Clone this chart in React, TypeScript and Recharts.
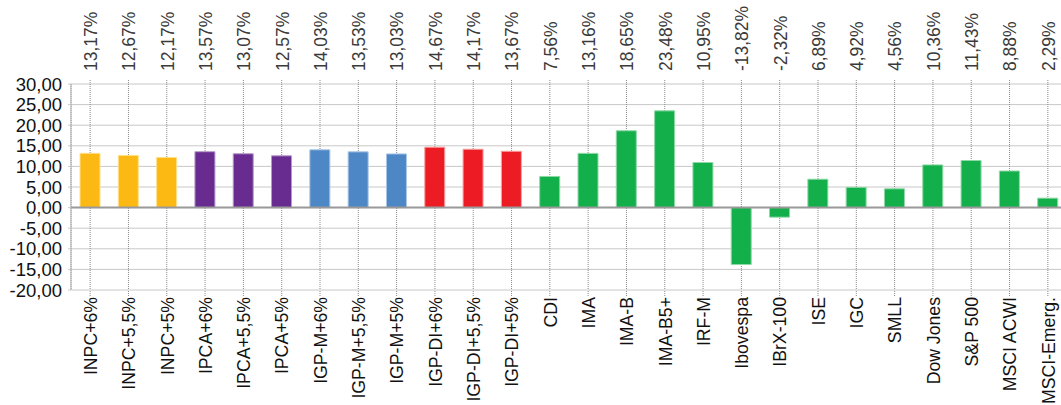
import { BarChart, Bar, XAxis, YAxis, CartesianGrid, ReferenceLine, Cell } from 'recharts'

const categories = [
  'INPC+6%', 'INPC+5,5%', 'INPC+5%',
  'IPCA+6%', 'IPCA+5,5%', 'IPCA+5%',
  'IGP-M+6%', 'IGP-M+5,5%', 'IGP-M+5%',
  'IGP-DI+6%', 'IGP-DI+5,5%', 'IGP-DI+5%',
  'CDI', 'IMA', 'IMA-B', 'IMA-B5+', 'IRF-M', 'Ibovespa', 'IBrX-100',
  'ISE', 'IGC', 'SMLL', 'Dow Jones', 'S&P 500', 'MSCI ACWI', 'MSCI-Emerg.',
]

const values = [
  13.17, 12.67, 12.17,
  13.57, 13.07, 12.57,
  14.03, 13.53, 13.03,
  14.67, 14.17, 13.67,
  7.56, 13.16, 18.65, 23.48, 10.95, -13.82, -2.32,
  6.89, 4.92, 4.56, 10.36, 11.43, 8.88, 2.29,
]

const groups = [
  'INPC', 'INPC', 'INPC',
  'IPCA', 'IPCA', 'IPCA',
  'IGP-M', 'IGP-M', 'IGP-M',
  'IGP-DI', 'IGP-DI', 'IGP-DI',
  'mercado', 'mercado', 'mercado', 'mercado', 'mercado', 'mercado', 'mercado',
  'mercado', 'mercado', 'mercado', 'mercado', 'mercado', 'mercado', 'mercado',
]

const yTicks = [-20, -15, -10, -5, 0, 5, 10, 15, 20, 25, 30]

const palette: Record<string, { fill: string; edge: string }> = {
  INPC: { fill: '#FDB913', edge: '#FFE08A' },
  IPCA: { fill: '#682C90', edge: '#B59AC9' },
  'IGP-M': { fill: '#4E87C6', edge: '#A9C6E6' },
  'IGP-DI': { fill: '#ED1C24', edge: '#F7A3A0' },
  mercado: { fill: '#13AF4B', edge: '#8ED8A6' },
}

const data = categories.map((name, i) => ({ name, value: values[i], group: groups[i] }))

const font = '"Liberation Sans", Arial, sans-serif'
const fmt = (v: number) => v.toFixed(2).replace('.', ',')

interface TickProps {
  x?: number
  y?: number
  payload?: { value: string; index: number }
}

// rotated labels are a little condensed along the reading direction
function TopTick({ x = 0, payload }: TickProps) {
  const v = values[payload?.index ?? 0]
  return (
    <g transform={`translate(${x},71)`}>
      <text
        transform="rotate(-90) scale(0.92 1)"
        textAnchor="start"
        dy="0.36em"
        fill="#3a3a3a"
        fontSize={19}
        fontFamily={font}
      >
        {fmt(v) + '%'}
      </text>
    </g>
  )
}

function BottomTick({ x = 0, payload }: TickProps) {
  return (
    <g transform={`translate(${x},297)`}>
      <text
        transform="rotate(-90) scale(0.94 1)"
        textAnchor="end"
        dy="0.36em"
        fill="#111"
        fontSize={18.8}
        fontFamily={font}
      >
        {payload?.value}
      </text>
    </g>
  )
}

export default function App() {
  return (
    <div
      style={{
        position: 'fixed',
        top: 0,
        left: 0,
        width: 1061,
        height: 405,
        overflow: 'hidden',
        background: '#fff',
      }}
    >
      <BarChart
        width={1080}
        height={405}
        data={data}
        margin={{ top: 0, right: 13, left: 0, bottom: 0 }}
        barCategoryGap={0}
      >
        <CartesianGrid vertical={false} stroke="#c8c8c8" />
        <CartesianGrid horizontal={false} stroke="#8a8a8a" strokeDasharray="1 1" />
        <XAxis
          xAxisId="top"
          orientation="top"
          dataKey="name"
          height={84}
          interval={0}
          axisLine={false}
          tickSize={4}
          tickLine={{ stroke: '#8a8a8a', strokeDasharray: '1 1' }}
          tick={<TopTick />}
        />
        <XAxis
          dataKey="name"
          height={115}
          interval={0}
          axisLine={false}
          tickSize={6}
          tickLine={{ stroke: '#8a8a8a', strokeDasharray: '1 1' }}
          tick={<BottomTick />}
        />
        <YAxis
          width={71}
          domain={[-20, 30]}
          ticks={yTicks}
          interval={0}
          tickFormatter={fmt}
          axisLine={{ stroke: '#b0b0b0' }}
          tickLine={{ stroke: '#c8c8c8' }}
          tickSize={3}
          tickMargin={6}
          tick={{ fill: '#111', fontSize: 18.5, fontFamily: font }}
        />
        <ReferenceLine y={0} stroke="#999" strokeWidth={2} />
        <Bar dataKey="value" barSize={20} isAnimationActive={false}>
          {data.map((d) => (
            <Cell
              key={d.name}
              fill={palette[d.group].fill}
              stroke={palette[d.group].edge}
              strokeWidth={1}
            />
          ))}
        </Bar>
      </BarChart>
    </div>
  )
}
